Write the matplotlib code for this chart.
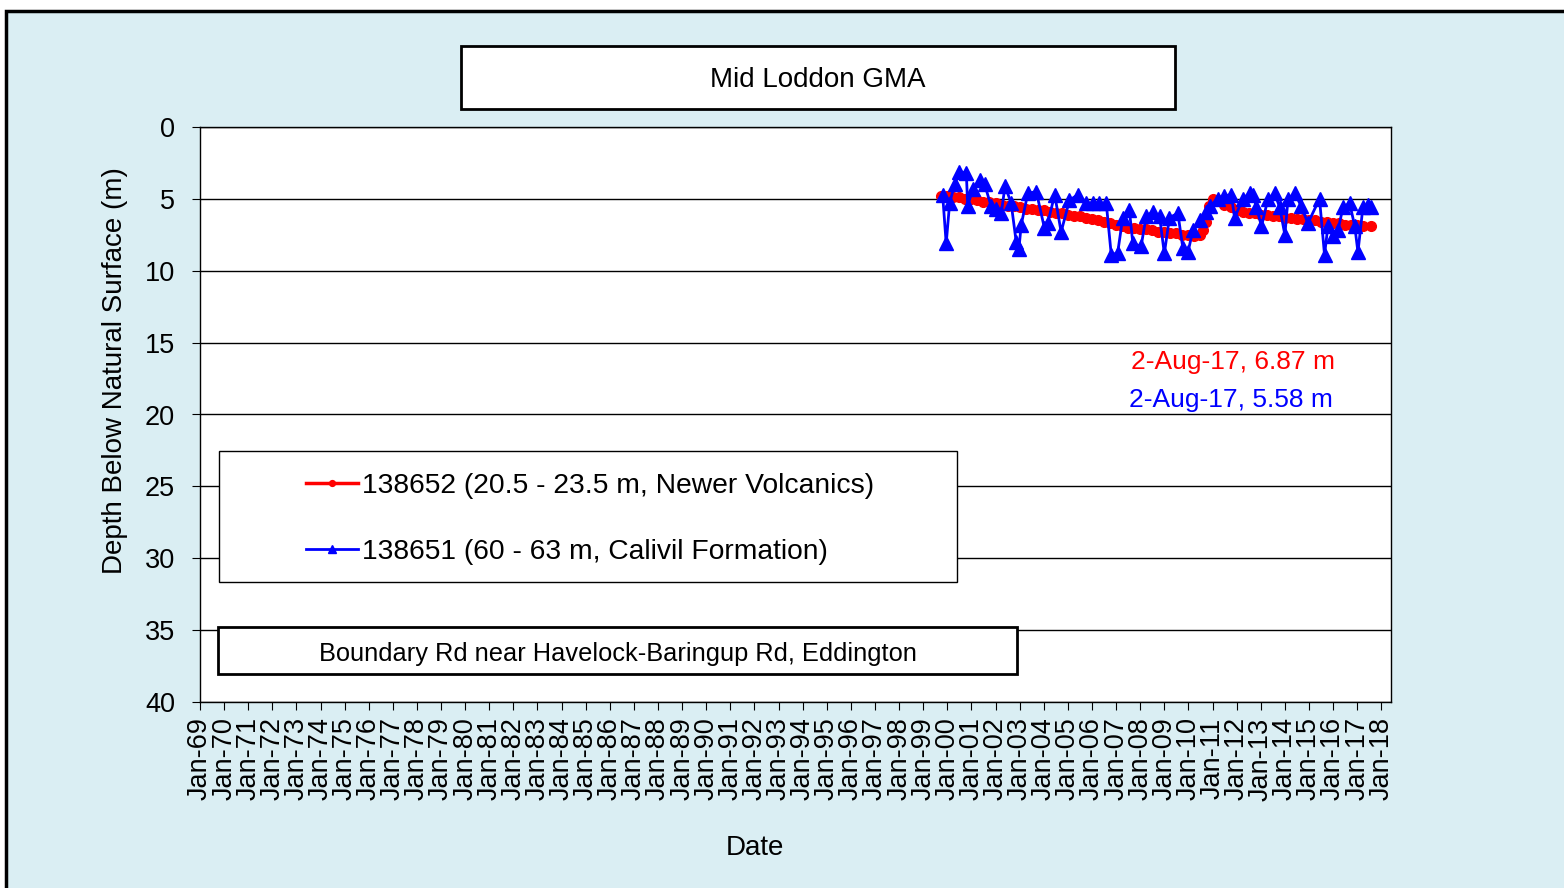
import matplotlib
matplotlib.use("Agg")
import matplotlib.pyplot as plt
import matplotlib.dates as mdates
from matplotlib.patches import Rectangle
import pandas as pd

plt.rcParams["font.family"] = ["Liberation Sans", "DejaVu Sans"]

# bore 138652 (red) - depth below natural surface (m)
red_dates = [
    "1999-10-01", "2000-01-01", "2000-04-01", "2000-07-01", "2000-10-01",
    "2001-01-01", "2001-04-01", "2001-07-01", "2001-10-01", "2002-01-01",
    "2002-04-01", "2002-07-01", "2002-10-01", "2003-01-01", "2003-04-01",
    "2003-07-01", "2003-10-01", "2004-01-01", "2004-04-01", "2004-07-01",
    "2004-10-01", "2005-01-01", "2005-04-01", "2005-07-01", "2005-10-01",
    "2006-01-01", "2006-04-01", "2006-07-01", "2006-10-01", "2007-01-01",
    "2007-04-01", "2007-07-01", "2007-10-01", "2008-01-01", "2008-04-01",
    "2008-07-01", "2008-10-01", "2009-01-01", "2009-04-01", "2009-07-01",
    "2009-10-01", "2010-01-01", "2010-04-01", "2010-07-01", "2010-08-15",
    "2010-10-01", "2010-11-15", "2011-01-01", "2011-04-01", "2011-07-01",
    "2011-10-01", "2012-01-01", "2012-04-01", "2012-07-01", "2012-10-01",
    "2013-01-01", "2013-04-01", "2013-07-01", "2013-10-01", "2014-01-01",
    "2014-04-01", "2014-07-01", "2014-10-01", "2015-01-01", "2015-04-01",
    "2015-07-01", "2015-10-01", "2016-01-01", "2016-04-01", "2016-07-01",
    "2016-10-01", "2017-01-01", "2017-04-01", "2017-08-02",
]
red_depth = [
    4.8, 4.8, 4.9, 4.9, 5.0,
    5.0, 5.1, 5.2, 5.2, 5.3,
    5.4, 5.5, 5.5, 5.6, 5.7,
    5.7, 5.8, 5.8, 5.9, 6.0,
    6.0, 6.1, 6.2, 6.2, 6.3,
    6.4, 6.5, 6.6, 6.7, 6.8,
    6.9, 7.0, 7.0, 7.1, 7.1,
    7.2, 7.3, 7.3, 7.4, 7.4,
    7.5, 7.5, 7.6, 7.5, 7.2,
    6.6, 5.5, 5.0, 5.1, 5.4,
    5.6, 5.8, 5.9, 6.0, 6.0,
    6.1, 6.1, 6.2, 6.2, 6.3,
    6.3, 6.4, 6.4, 6.5, 6.5,
    6.6, 6.6, 6.7, 6.7, 6.8,
    6.8, 6.8, 6.9, 6.87,
]

# bore 138651 (blue)
blue_dates = [
    "1999-10-22", "1999-12-15", "2000-02-05", "2000-04-20", "2000-07-01",
    "2000-10-15", "2000-11-05", "2001-01-20", "2001-05-05", "2001-07-20",
    "2001-10-25", "2002-01-01", "2002-03-28", "2002-05-25", "2002-08-25",
    "2002-11-10", "2002-12-20", "2003-01-25", "2003-05-05", "2003-09-10",
    "2004-01-10", "2004-03-01", "2004-06-15", "2004-09-20", "2005-01-25",
    "2005-06-01", "2005-10-05", "2006-01-15", "2006-04-20", "2006-08-05",
    "2006-10-20", "2007-01-25", "2007-04-12", "2007-07-22", "2007-09-12",
    "2008-01-15", "2008-04-01", "2008-07-12", "2008-10-20", "2009-01-01",
    "2009-03-20", "2009-07-25", "2009-10-08", "2009-12-25", "2010-03-10",
    "2010-06-18", "2010-09-28", "2010-11-25", "2011-03-20", "2011-07-01",
    "2011-10-12", "2011-12-01", "2012-04-05", "2012-07-15", "2012-09-05",
    "2012-10-28", "2013-01-12", "2013-04-20", "2013-07-30", "2013-10-15",
    "2014-01-01", "2014-02-18", "2014-05-30", "2014-09-05", "2014-12-16",
    "2015-06-10", "2015-08-25", "2015-10-15", "2016-01-01", "2016-03-15",
    "2016-05-30", "2016-09-08", "2016-11-25", "2017-01-12", "2017-03-28",
    "2017-06-15", "2017-08-02",
]
blue_depth = [
    4.7, 8.1, 5.3, 4.0, 3.1,
    3.2, 5.5, 4.3, 3.7, 4.0,
    5.5, 5.7, 6.0, 4.1, 5.3,
    8.0, 8.5, 6.8, 4.6, 4.5,
    7.0, 6.7, 4.7, 7.3, 5.1,
    4.7, 5.3, 5.3, 5.3, 5.3,
    8.9, 8.75, 6.3, 5.8, 8.1,
    8.3, 6.2, 5.9, 6.2, 8.8,
    6.3, 6.0, 8.4, 8.7, 7.2,
    6.5, 5.9, 5.5, 5.0, 4.8,
    4.7, 6.3, 5.0, 4.6, 4.7,
    5.6, 6.9, 5.0, 4.6, 5.6,
    7.5, 5.0, 4.6, 5.5, 6.7,
    5.0, 8.9, 6.9, 7.6, 7.2,
    5.6, 5.3, 6.9, 8.7, 5.6,
    5.4, 5.58,
]

red_label = "138652 (20.5 - 23.5 m, Newer Volcanics)"
blue_label = "138651 (60 - 63 m, Calivil Formation)"
red_note = "2-Aug-17, 6.87 m"
blue_note = "2-Aug-17, 5.58 m"
title = "Mid Loddon GMA"
site = "Boundary Rd near Havelock-Baringup Rd, Eddington"

W, H = 1564, 888
bg = "#DAEEF3"

fig = plt.figure(figsize=(W / 100, H / 100), dpi=100, facecolor="white")

# chart-area background with a frame on top and left
fig.patches.append(Rectangle((5.5 / W, -0.1), 1.2, (H - 11) / H + 0.1,
                             transform=fig.transFigure, facecolor=bg,
                             edgecolor="black", lw=2.5, zorder=-10))

ax = fig.add_axes([200 / W, 1 - 702 / H, 1191 / W, 575 / H])
ax.set_facecolor("white")

ax.plot(pd.to_datetime(red_dates), red_depth, color="red", lw=2.5,
        marker="o", ms=7, mec="red", label=red_label, zorder=3)
ax.plot(pd.to_datetime(blue_dates), blue_depth, color="blue", lw=2,
        marker="^", ms=10, mec="blue", label=blue_label, zorder=4)

ax.set_ylim(40, 0)
ax.set_yticks(range(0, 41, 5))
ax.set_xlim(pd.Timestamp("1969-01-01"), pd.Timestamp("2018-05-28"))
ax.xaxis.set_major_locator(mdates.YearLocator(1, month=1, day=1))
ax.xaxis.set_major_formatter(mdates.DateFormatter("%b-%y"))
ax.tick_params(axis="x", labelrotation=90, labelsize=19.5, length=6,
               direction="out", pad=5)
ax.tick_params(axis="y", labelsize=19.5, length=6, direction="out", pad=12)
ax.yaxis.grid(True, color="black", lw=1)
ax.set_axisbelow(True)
for s in ax.spines.values():
    s.set_color("black")
    s.set_linewidth(1)

ax.set_ylabel("Depth Below Natural Surface (m)", fontsize=20, labelpad=12)
ax.yaxis.label.set_y(0.577)
ax.set_xlabel("Date", fontsize=20, labelpad=24.5)
ax.xaxis.label.set_x(0.466)

# legend box
ax.add_patch(Rectangle((0.016, 0.2087), 0.6196, 0.2278, transform=ax.transAxes,
                       facecolor="white", edgecolor="black", lw=1, zorder=5))
leg = ax.legend(loc="upper left", bbox_to_anchor=(0.0772, 0.4224), frameon=False,
                borderpad=0, handlelength=1.85, handletextpad=0.15,
                labelspacing=1.42, fontsize=20.3, markerscale=0.6)
leg.set_zorder(6)

# site box
ax.add_patch(Rectangle((0.0151, 0.0487), 0.6709, 0.0817, transform=ax.transAxes,
                       facecolor="white", edgecolor="black", lw=2, zorder=5))
ax.text(0.351, 0.0835, site, transform=ax.transAxes, ha="center", va="center",
        fontsize=18.3, zorder=6)

ax.text(0.8673, 0.5913, red_note, transform=ax.transAxes, ha="center",
        va="center", fontsize=19, color="red")
ax.text(0.8657, 0.5252, blue_note, transform=ax.transAxes, ha="center",
        va="center", fontsize=19, color="blue")

# title box
fig.patches.append(Rectangle((461 / W, 1 - 109 / H), 714 / W, 63 / H,
                             transform=fig.transFigure, facecolor="white",
                             edgecolor="black", lw=2, zorder=1))
fig.text(818 / W, 1 - 80 / H, title, ha="center", va="center", fontsize=20,
         zorder=2)

fig.savefig("out.png", dpi=100, facecolor=fig.get_facecolor())
